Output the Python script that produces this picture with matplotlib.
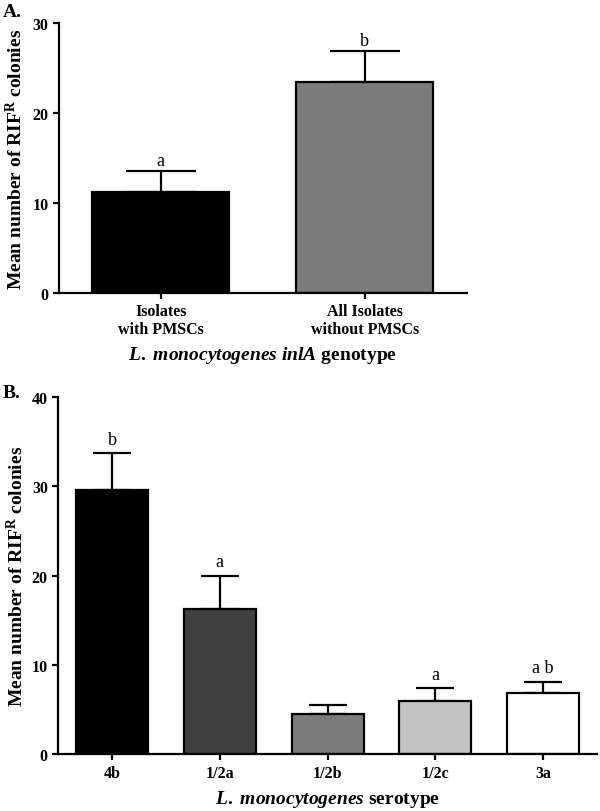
import matplotlib
matplotlib.use("Agg")
import matplotlib.pyplot as plt
import numpy as np

# panel A data
genotypes = ["Isolates\nwith PMSCs", "All Isolates\nwithout PMSCs"]
geno_means = [11.2, 23.5]
geno_err = [2.4, 3.4]
geno_letters = ["a", "b"]
geno_colors = ["#000000", "#7b7b7b"]

# panel B data
serotypes = ["4b", "1/2a", "1/2b", "1/2c", "3a"]
sero_means = [29.6, 16.3, 4.5, 6.0, 6.8]
sero_err = [4.1, 3.7, 1.0, 1.4, 1.3]
sero_letters = ["b", "a", "", "a", "a b"]
sero_colors = ["#000000", "#404040", "#7b7b7b", "#c2c2c2", "#ffffff"]

plt.rcParams['font.family'] = ['Liberation Serif', 'DejaVu Serif']
plt.rcParams['font.weight'] = 'bold'
plt.rcParams['mathtext.fontset'] = 'custom'
plt.rcParams['mathtext.rm'] = 'Liberation Serif:bold'
plt.rcParams['mathtext.bf'] = 'Liberation Serif:bold'
plt.rcParams['mathtext.it'] = 'Liberation Serif:italic:bold'

fig = plt.figure(figsize=(6, 8.12), dpi=100)
fig.set_facecolor('white')

ylab = r"Mean number of RIF$^{\mathbf{R}}$ colonies"


def style_axes(ax, ymax):
    for s in ['top', 'right']:
        ax.spines[s].set_visible(False)
    for s in ['left', 'bottom']:
        ax.spines[s].set_linewidth(1.6)
    ax.tick_params(axis='both', direction='out', length=4, width=1.6, labelsize=11.5)
    ax.set_ylim(0, ymax)
    for lab in ax.get_xticklabels() + ax.get_yticklabels():
        lab.set_fontweight('bold')


def draw_panel(ax, cats, means, err, letters, colors, ymax, capsize, letter_off):
    x = np.arange(len(cats))
    ax.bar(x, means, width=0.67, color=colors, edgecolor='black', linewidth=1.6, zorder=2)
    ax.errorbar(x, means, yerr=[np.zeros(len(means)), err], fmt='none',
                ecolor='black', elinewidth=1.6, capsize=capsize, capthick=1.6, zorder=1)
    for xi, m, e, t in zip(x, means, err, letters):
        ax.text(xi, m + e + letter_off, t, ha='center', va='bottom',
                fontsize=13, fontweight='normal')
    ax.set_xticks(x)
    ax.set_xticklabels(cats, fontweight='bold', linespacing=1.15)
    ax.set_xlim(-0.5, len(cats) - 0.5)
    style_axes(ax, ymax)
    ax.set_ylabel(ylab, fontsize=14, fontweight='bold')


# panel A
axA = fig.add_axes([0.098, 0.638, 0.680, 0.332])
draw_panel(axA, genotypes, geno_means, geno_err, geno_letters, geno_colors,
           30, 25, 0.2)
axA.set_yticks([0, 10, 20, 30])
axA.set_xlabel(r"$\mathit{L.}$ $\mathit{monocytogenes}$ $\mathit{inlA}$ genotype",
               fontsize=14, fontweight='bold', labelpad=5)
axA.yaxis.set_label_coords(-0.08, 0.5)
fig.text(0.005, 0.985, "A.", fontsize=14, fontweight='bold', va='center')

# panel B
axB = fig.add_axes([0.097, 0.070, 0.898, 0.440])
draw_panel(axB, serotypes, sero_means, sero_err, sero_letters, sero_colors,
           40, 13.5, 0.6)
axB.set_yticks([0, 10, 20, 30, 40])
axB.set_xlabel(r"$\mathit{L.}$ $\mathit{monocytogenes}$ serotype",
               fontsize=14, fontweight='bold', labelpad=5)
axB.yaxis.set_label_coords(-0.058, 0.5)
fig.text(0.005, 0.516, "B.", fontsize=14, fontweight='bold', va='center')

fig.savefig("out.png", dpi=100, facecolor='white')
